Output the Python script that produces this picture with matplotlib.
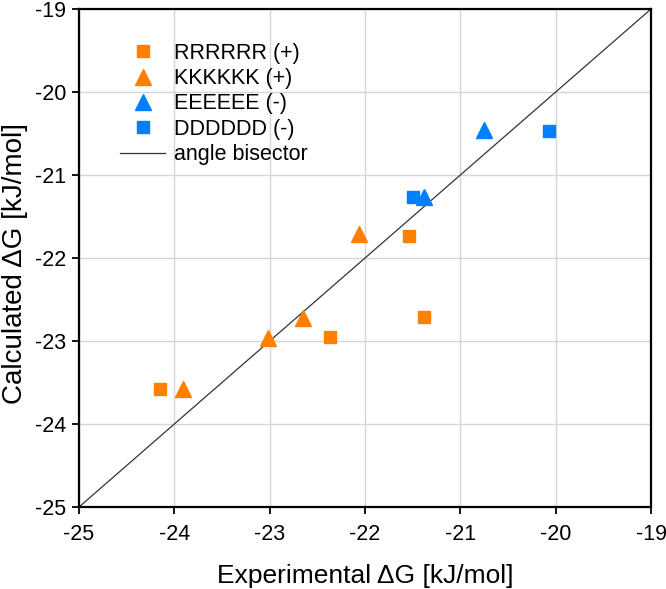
import matplotlib
matplotlib.use('Agg')
import matplotlib.pyplot as plt

plt.rcParams['font.family'] = ['Liberation Sans', 'DejaVu Sans']
plt.rcParams['axes.unicode_minus'] = False

# data (experimental, calculated) in kJ/mol
r_exp = [-24.15, -22.37, -21.54, -21.38]
r_calc = [-23.58, -22.95, -21.73, -22.71]
k_exp = [-23.91, -23.02, -22.65, -22.06]
k_calc = [-23.58, -22.96, -22.72, -21.71]
e_exp = [-21.38, -20.75]
e_calc = [-21.26, -20.46]
d_exp = [-21.50, -20.07]
d_calc = [-21.27, -20.47]

lim = [-25, -19]
ticks = [-25, -24, -23, -22, -21, -20, -19]

orange = '#ff8000'
blue = '#0080ff'

fig = plt.figure(figsize=(6.66, 5.89), dpi=100)
ax = fig.add_axes([0.1186, 0.1392, 0.8589, 0.8455])

ax.plot(r_exp, r_calc, 's', color=orange, markersize=9, linestyle='none', label='RRRRRR (+)', zorder=3)
ax.plot(k_exp, k_calc, '^', color=orange, markersize=12, linestyle='none', label='KKKKKK (+)', zorder=3)
ax.plot(e_exp, e_calc, '^', color=blue, markersize=12, linestyle='none', label='EEEEEE (-)', zorder=3)
ax.plot(d_exp, d_calc, 's', color=blue, markersize=9, linestyle='none', label='DDDDDD (-)', zorder=3)
ax.plot(lim, lim, color='#333333', linewidth=0.9, label='angle bisector', zorder=2)

ax.set_xlim(lim)
ax.set_ylim(lim)
ax.set_xticks(ticks)
ax.set_yticks(ticks)
ax.grid(True, color='#d6d6d6', linewidth=1)
ax.set_axisbelow(True)
for s in ax.spines.values():
    s.set_linewidth(1.6)
ax.tick_params(direction='out', length=5, width=1.3, labelsize=15.5)
ax.tick_params(axis='x', pad=7)
ax.tick_params(axis='y', pad=4)

ax.set_xlabel('Experimental ΔG [kJ/mol]', fontsize=19)
ax.set_ylabel('Calculated ΔG [kJ/mol]', fontsize=20)
ax.xaxis.set_label_coords(0.5, -0.115)
ax.yaxis.set_label_coords(-0.09, 0.488)

ax.legend(loc='upper left', bbox_to_anchor=(0.038, 0.971), frameon=False, fontsize=15.5,
          handlelength=2.1, handletextpad=0.4, labelspacing=0.2)

fig.savefig('out.png', dpi=100)
